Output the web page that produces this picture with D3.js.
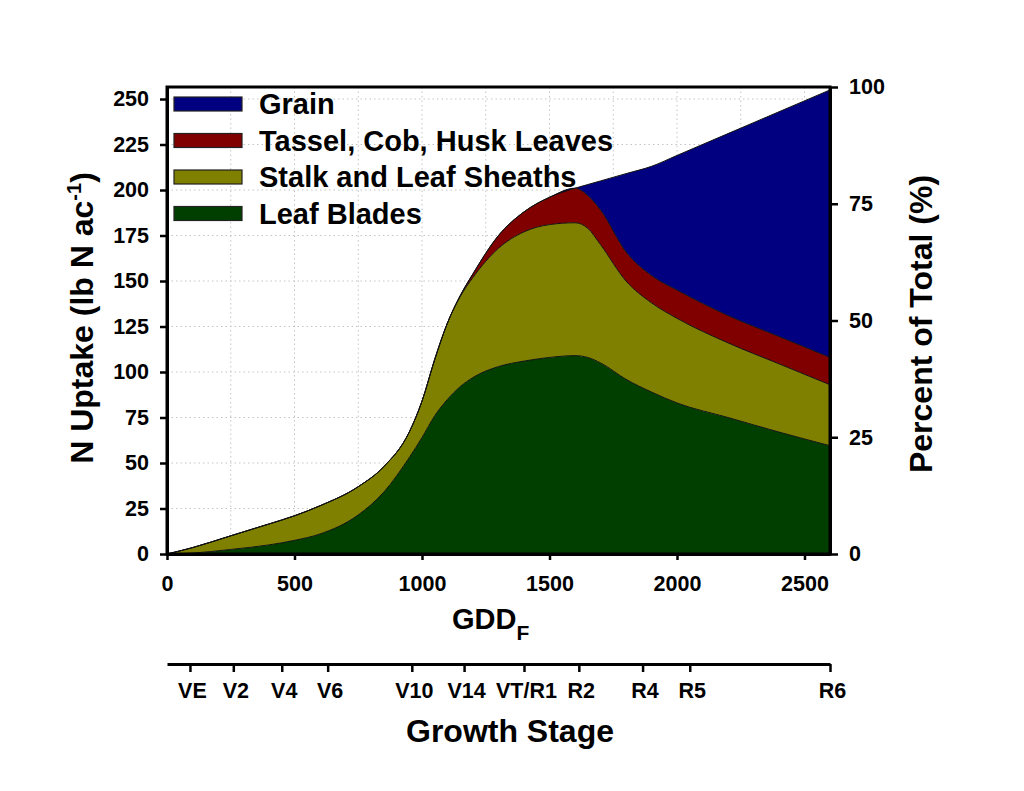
<!DOCTYPE html>
<html>
<head>
<meta charset="utf-8">
<script src="https://cdn.jsdelivr.net/npm/d3@7"></script>
<style>
  html, body { margin: 0; padding: 0; background: #fff; }
  svg text { font-family: "Liberation Sans", Arial, sans-serif; font-weight: bold; fill: #000; }
</style>
</head>
<body>
<svg id="chart" width="1024" height="791"></svg>
<script>
// ---------- data ----------
const gdd        = [0, 100, 250, 400, 500, 600, 750, 850, 950, 1000, 1050, 1100, 1150, 1200, 1300, 1400, 1500, 1600, 1650, 1700, 1800, 1900, 2000, 2200, 2400, 2600];
const leafBlades = [0, 0.5, 2.5, 5, 7.5, 11, 21.5, 34, 53, 64, 76, 85, 92, 97, 103, 106, 108, 109, 108, 105, 96, 89, 83, 75, 67, 59.5];
const stalkSheaths = [0, 3, 7.5, 11.5, 13.5, 15.5, 15.5, 14, 14, 20, 31, 42, 49.5, 55, 65, 71, 73, 73, 71, 65, 54, 49, 46.5, 41, 37.5, 33.5];
const tasselCobHusk = [0, 0, 0, 0, 0, 0, 0, 0, 0, 0, 0, 0, 0.5, 2, 7, 11, 15, 19, 18, 19, 16, 15, 15.5, 15, 15, 15];
const grain      = [0, 0, 0, 0, 0, 0, 0, 0, 0, 0, 0, 0, 0, 0, 0, 0, 0, 0, 6, 16, 43, 60, 74, 100, 123.5, 147];

const seriesKeys   = ["leaf", "stalk", "tassel", "grain"];
const seriesLabels = ["Leaf Blades", "Stalk and Leaf Sheaths", "Tassel, Cob, Husk Leaves", "Grain"];
const seriesColors = ["#003f00", "#808000", "#800000", "#000080"];

const leftTicks  = [0, 25, 50, 75, 100, 125, 150, 175, 200, 225, 250];
const rightTicks = [0, 25, 50, 75, 100];
const xTicks     = [0, 500, 1000, 1500, 2000, 2500];
const stageGdd   = [90, 260, 450, 630, 960, 1165, 1400, 1615, 1865, 2050, 2600];
const stageLabels = ["VE", "V2", "V4", "V6", "V10", "V14", "VT/R1", "R2", "R4", "R5", "R6"];

// ---------- layout ----------
const svg = d3.select("#chart");
const L = 167, R = 830, T = 87, B = 554;

const x  = d3.scaleLinear().domain([0, 2600]).range([L, R]);
const yL = d3.scaleLinear().domain([0, 256.6]).range([B, T]);
const yR = d3.scaleLinear().domain([0, 100]).range([B, T]);

// grid
const grid = svg.append("g").attr("stroke", "#c4c4c4").attr("stroke-width", 1).attr("stroke-dasharray", "1.5,3");
grid.selectAll("line.v").data(d3.range(250, 2600, 250)).join("line")
  .attr("x1", d => x(d)).attr("x2", d => x(d)).attr("y1", T).attr("y2", B);
grid.selectAll("line.h").data(leftTicks.filter(d => d > 0)).join("line")
  .attr("x1", L).attr("x2", R).attr("y1", d => yL(d)).attr("y2", d => yL(d));

// stacked areas
const table = gdd.map((g, i) => ({ gdd: g, leaf: leafBlades[i], stalk: stalkSheaths[i], tassel: tasselCobHusk[i], grain: grain[i] }));
const stacked = d3.stack().keys(seriesKeys)(table);
const area = d3.area().curve(d3.curveMonotoneX)
  .x(d => x(d.data.gdd)).y0(d => yL(d[0])).y1(d => yL(d[1]));
const line = d3.line().curve(d3.curveMonotoneX)
  .x(d => x(d.data.gdd)).y(d => yL(d[1]));

svg.append("g").selectAll("path").data(stacked).join("path")
  .attr("d", area).attr("fill", (d, i) => seriesColors[i]);
svg.append("g").selectAll("path").data(stacked).join("path")
  .attr("d", line).attr("fill", "none").attr("stroke", "#111").attr("stroke-width", 1);

// axes
function styleAxis(g, w) {
  g.selectAll("path.domain").attr("stroke", "#000").attr("stroke-width", w);
  g.selectAll(".tick line").attr("stroke", "#000").attr("stroke-width", 2.5);
  g.selectAll(".tick text").attr("font-size", 21.5).attr("font-family", "Liberation Sans, Arial, sans-serif").attr("font-weight", "bold").attr("fill", "#000");
}
const gL = svg.append("g").attr("transform", `translate(${L},0)`)
  .call(d3.axisLeft(yL).tickValues(leftTicks).tickSize(7).tickSizeOuter(0).tickPadding(11));
styleAxis(gL, 3);
const gR = svg.append("g").attr("transform", `translate(${R},0)`)
  .call(d3.axisRight(yR).tickValues(rightTicks).tickSize(8).tickSizeOuter(0).tickPadding(11));
styleAxis(gR, 3);
const gB = svg.append("g").attr("transform", `translate(0,${B})`)
  .call(d3.axisBottom(x).tickValues(xTicks).tickFormat(d3.format("d")).tickSize(6).tickSizeOuter(0).tickPadding(16));
styleAxis(gB, 3);

// frame
svg.append("rect").attr("x", L).attr("y", T).attr("width", R - L).attr("height", B - T)
  .attr("fill", "none").attr("stroke", "#000").attr("stroke-width", 3);

// growth stage axis
const gS = svg.append("g").attr("transform", `translate(0,664)`)
  .call(d3.axisBottom(x).tickValues(stageGdd).tickFormat((d, i) => stageLabels[i]).tickSize(8).tickSizeOuter(0).tickPadding(11));
styleAxis(gS, 3);
gS.selectAll(".tick text").attr("dx", 2);

// axis titles
svg.append("text").attr("x", 452).attr("y", 629).attr("font-size", 29)
  .text("GDD").append("tspan").attr("dy", 11).attr("font-size", 21).text("F");
svg.append("text").attr("x", 510).attr("y", 742).attr("text-anchor", "middle").attr("font-size", 32).text("Growth Stage");

const yt = svg.append("text").attr("transform", "translate(93,318) rotate(-90)")
  .attr("text-anchor", "middle").attr("font-size", 32);
yt.append("tspan").text("N Uptake (lb N ac");
yt.append("tspan").attr("dy", -12).attr("font-size", 20).text("-1");
yt.append("tspan").attr("dy", 12).text(")");

svg.append("text").attr("transform", "translate(932,324) rotate(-90)")
  .attr("text-anchor", "middle").attr("font-size", 32).text("Percent of Total (%)");

// legend (top to bottom: Grain, Tassel, Stalk, Leaf)
const legendOrder = [3, 2, 1, 0];
const lg = svg.append("g");
legendOrder.forEach((si, k) => {
  const yy = 97 + k * 36.5;
  lg.append("rect").attr("x", 174).attr("y", yy).attr("width", 68).attr("height", 14)
    .attr("fill", seriesColors[si]).attr("stroke", "#222").attr("stroke-width", 1.2);
  lg.append("text").attr("x", 259).attr("y", yy + 17).attr("font-size", 29).text(seriesLabels[si]);
});
</script>
</body>
</html>
